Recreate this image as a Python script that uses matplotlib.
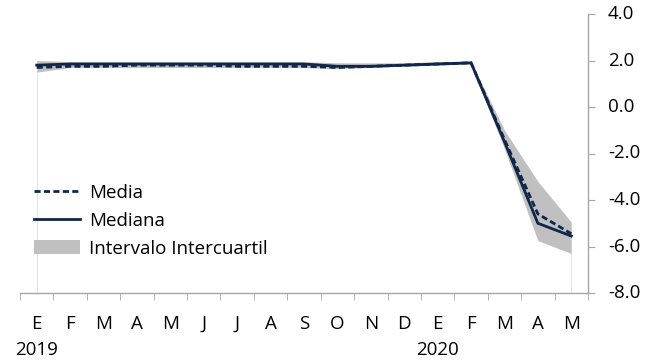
import numpy as np
import matplotlib
matplotlib.use("Agg")
import matplotlib.pyplot as plt
import matplotlib.transforms as mtransforms
from matplotlib.patches import Patch
from matplotlib.lines import Line2D

plt.rcParams['font.family'] = ['Open Sans', 'DejaVu Sans']

# Data
months = ["E", "F", "M", "A", "M", "J", "J", "A", "S", "O", "N", "D",
          "E", "F", "M", "A", "M"]
years = {0: "2019", 12: "2020"}
mediana = [1.8, 1.85, 1.85, 1.85, 1.85, 1.85, 1.85, 1.85, 1.85, 1.75, 1.75, 1.8,
           1.85, 1.9, -1.5, -5.0, -5.55]
media = [1.7, 1.75, 1.75, 1.8, 1.8, 1.8, 1.75, 1.75, 1.75, 1.7, 1.75, 1.8,
         1.85, 1.9, -1.4, -4.6, -5.45]
q1 = [1.5, 1.7, 1.7, 1.7, 1.7, 1.7, 1.7, 1.7, 1.7, 1.65, 1.7, 1.75,
      1.8, 1.85, -1.8, -5.75, -6.3]
q3 = [2.0, 1.95, 1.95, 1.95, 1.95, 1.95, 1.95, 1.95, 1.95, 1.9, 1.9, 1.9,
      1.95, 1.95, -1.0, -3.2, -4.95]
yticks = [-8, -6, -4, -2, 0, 2, 4]

navy = '#10264a'
band = '#c0c0c0'
axis_col = '#a6a6a6'
fs = 13.5

x = np.arange(len(months))

fig = plt.figure(figsize=(6.58, 3.62), dpi=100)
ax = fig.add_axes([20/658, 1 - 293/362, 568/658, 279/362])

# faint edges of the area series
ax.vlines([x[0], x[-1]], -8, [q1[0], q1[-1]], color='#e4e4e4', lw=0.8, zorder=1)
ax.fill_between(x, q1, q3, color=band, lw=0, zorder=2)
ax.plot(x, mediana, color=navy, lw=2.0, zorder=3, solid_joinstyle='miter')
ax.plot(x, media, color=navy, lw=2.0, ls=(0, (2.2, 1.2)), zorder=4)

ax.set_xlim(-0.5, len(months) - 0.5)
ax.set_ylim(-8, 4)

# axes styling
for s in ['top', 'left']:
    ax.spines[s].set_visible(False)
for s in ['bottom', 'right']:
    ax.spines[s].set_color(axis_col)
    ax.spines[s].set_linewidth(1.0)

# right y axis, labels left-aligned
ax.yaxis.tick_right()
ax.set_yticks(yticks)
ax.set_yticklabels([])
ax.tick_params(axis='y', direction='out', length=5, color=axis_col)
ytrans = mtransforms.blended_transform_factory(ax.transAxes, ax.transData)
for v in yticks:
    ax.text(1.0352, v, f"{v:.1f}", transform=ytrans, ha='left',
            va='center', fontsize=fs)

ax.set_xticks(x)
ax.set_xticklabels(months)
ax.set_xticks(np.arange(-0.5, len(months), 1), minor=True)
ax.tick_params(axis='x', which='major', length=0, pad=16, labelsize=fs)
ax.tick_params(axis='x', which='minor', direction='out', length=5, color=axis_col)

trans = mtransforms.blended_transform_factory(ax.transData, fig.transFigure)
for i, yr in years.items():
    ax.text(x[i], 1 - 350/362, yr, transform=trans, ha='center', va='center',
            fontsize=fs)

handles = [Line2D([], [], color=navy, lw=2.0, ls=(0, (2.2, 1.2))),
           Line2D([], [], color=navy, lw=2.0),
           Patch(facecolor=band, edgecolor='none')]
ax.legend(handles, ["Media", "Mediana", "Intervalo Intercuartil"],
          loc='upper left', bbox_to_anchor=(0.0114, 0.417), frameon=False,
          fontsize=fs, handlelength=2.45, handleheight=0.8, handletextpad=0.48,
          labelspacing=0.52, borderaxespad=0)

fig.savefig("out.png", dpi=100)
